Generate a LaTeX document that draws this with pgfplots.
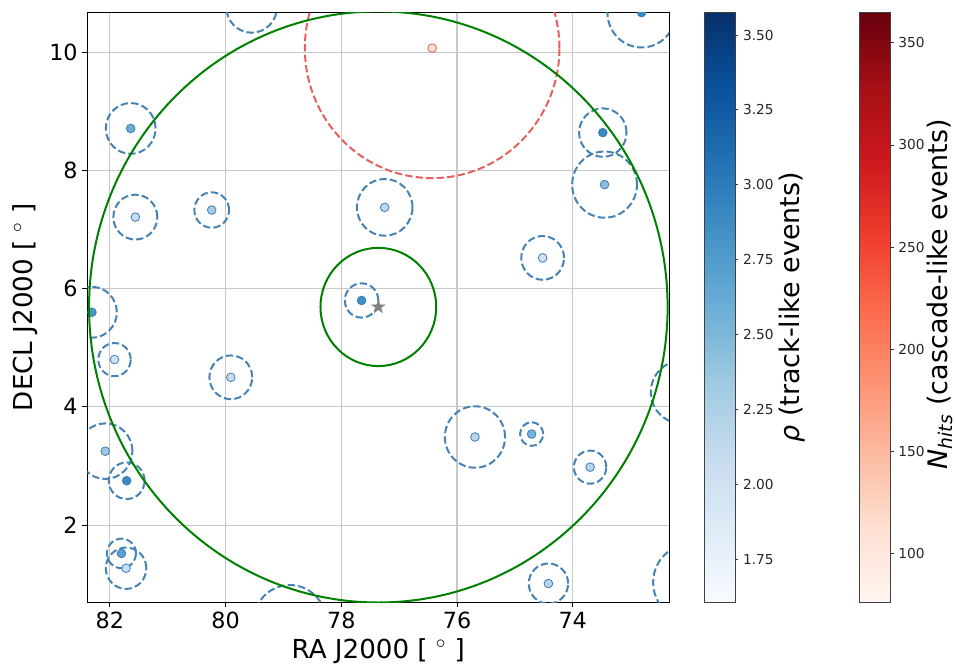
\documentclass[border=0pt]{standalone}
\usepackage{pgfplots}
\usepackage{pgfplotstable}
\pgfplotsset{compat=1.18}
\usepackage{fontspec}
\setmainfont{DejaVu Sans}
\usetikzlibrary{plotmarks}
\pgfkeys{/pgf/number format/assume math mode=true}
\definecolor{cblue}{RGB}{70,130,180}
\definecolor{cedge}{RGB}{65,125,178}
\definecolor{cgreen}{RGB}{0,128,0}
\definecolor{cred}{RGB}{232,95,95}
\definecolor{credge}{RGB}{232,95,95}
\definecolor{cpale}{RGB}{253,225,215}
\definecolor{cgrid}{RGB}{200,200,200}
\definecolor{cstar}{RGB}{128,128,128}
\pgfplotsset{
 colormap={Reds}{rgb255=(255,245,240) rgb255=(254,224,210) rgb255=(252,187,161) rgb255=(252,146,114) rgb255=(251,106,74) rgb255=(239,59,44) rgb255=(203,24,29) rgb255=(165,15,21) rgb255=(103,0,13)},
 colormap={Blues}{rgb255=(247,251,255) rgb255=(222,235,247) rgb255=(198,219,239) rgb255=(158,202,225) rgb255=(107,174,214) rgb255=(66,146,198) rgb255=(33,113,181) rgb255=(8,81,156) rgb255=(8,48,107)},
 skymap/.style={
   scale only axis, width=436.3pt, height=442.5pt,
   at={(65.5pt,47.8pt)}, anchor=south west,
   x dir=reverse,
   xmin=72.335, xmax=82.39, ymin=0.694, ymax=10.676,
   axis line style={line width=0.75pt},
   colormap name=Blues,
   point meta min=1.606, point meta max=3.576,
 },
}
% ellipse mark: x radius = mark size, y radius scaled by yunit/xunit
\pgfdeclareplotmark{ell}{%
  \pgfpathellipse{\pgfpointorigin}{\pgfqpoint{\pgfplotmarksize}{0pt}}{\pgfqpoint{0pt}{1.0217\pgfplotmarksize}}%
  \pgfusepathqstroke}
\pgfdeclareplotmark{fstar}{%
  \pgfpathmoveto{\pgfpointpolar{90}{\pgfplotmarksize}}%
  \pgfpathlineto{\pgfpointpolar{126}{0.382\pgfplotmarksize}}%
  \pgfpathlineto{\pgfpointpolar{162}{\pgfplotmarksize}}%
  \pgfpathlineto{\pgfpointpolar{198}{0.382\pgfplotmarksize}}%
  \pgfpathlineto{\pgfpointpolar{234}{\pgfplotmarksize}}%
  \pgfpathlineto{\pgfpointpolar{270}{0.382\pgfplotmarksize}}%
  \pgfpathlineto{\pgfpointpolar{306}{\pgfplotmarksize}}%
  \pgfpathlineto{\pgfpointpolar{342}{0.382\pgfplotmarksize}}%
  \pgfpathlineto{\pgfpointpolar{18}{\pgfplotmarksize}}%
  \pgfpathlineto{\pgfpointpolar{54}{0.382\pgfplotmarksize}}%
  \pgfpathclose
  \pgfusepathqfillstroke}

\pgfplotstableread{
ra dec rho r
72.81 10.67 2.90 0.59
81.64 8.71 2.60 0.43
81.56 7.21 2.10 0.38
80.24 7.33 2.30 0.30
82.31 5.60 2.80 0.43
77.25 7.375 2.15 0.48
77.65 5.80 2.85 0.29
73.48 8.64 2.90 0.41
73.45 7.76 2.45 0.56
74.52 6.52 2.00 0.37
81.92 4.80 2.00 0.28
79.91 4.50 2.10 0.37
82.08 3.25 2.35 0.47
81.71 2.75 2.90 0.31
81.80 1.52 2.70 0.25
81.72 1.27 2.05 0.35
75.69 3.49 2.20 0.52
74.71 3.54 2.55 0.20
73.70 2.98 2.20 0.28
74.42 1.01 2.20 0.34
79.55 10.77 2.50 0.44
78.89 0.355 2.50 0.63
72.12 4.25 2.50 0.53
71.96 1.03 2.50 0.65
}\tracks

\pgfplotstableread{
ra dec r m
77.36 5.69 1.0 2
77.36 5.69 5.0 2
}\roi

\pgfplotstableread{
ra dec r m
76.43 10.07 2.2 2
}\cascade

\begin{document}
\begin{tikzpicture}
% frame, grid, ticks, labels and the rho colorbar
\begin{axis}[
  skymap,
  xtick={74,76,78,80,82}, ytick={2,4,6,8,10},
  tick pos=left, tick align=outside,
  major tick length=3.75pt,
  tick style={black, line width=0.75pt},
  grid=major, grid style={cgrid, line width=0.8pt},
  ticklabel style={font=\fontsize{16.7}{18}\selectfont},
  xlabel={RA J2000 [ $^\circ$ ]}, ylabel={DECL J2000 [ $^\circ$ ]},
  label style={font=\fontsize{19.6}{22}\selectfont},
  xlabel style={at={(axis description cs:0.5,0)}, yshift=-37pt, anchor=center},
  ylabel style={at={(axis description cs:-0.107,0.5)}, anchor=center},
  colorbar,
  colorbar/width=23.1pt,
  colorbar style={
    at={(parent axis.north east)}, anchor=north west, xshift=17.75pt,
    ytick={1.75,2.00,2.25,2.50,2.75,3.00,3.25,3.50},
    yticklabel style={font=\fontsize{10.3}{12}\selectfont, color=black!85,
      /pgf/number format/.cd, fixed, fixed zerofill, precision=2, assume math mode=true},
    ytick pos=right, yticklabel pos=right,
    tick align=outside, major tick length=2.6pt,
    tick style={line width=0.6pt, black!80},
    axis line style={line width=0.6pt, black!75},
    ylabel={\textit{ρ} (track-like events)},
    ylabel style={font=\fontsize{20.2}{22}\selectfont, at={(axis description cs:2.87,0.5)}, anchor=center},
  },
]
\addplot[draw=none] coordinates {(77,5)};
\end{axis}
% data, clipped to the axis box
\begin{scope}
\clip (65.5pt,47.8pt) rectangle (501.8pt,490.3pt);
\begin{axis}[
  skymap,
  clip=false,
  xtick=\empty, ytick=\empty,
  axis on top,
]
% dashed error circles of track-like events
\addplot[scatter, only marks, mark=ell, line width=1.5pt,
  point meta=explicit,
  scatter/use mapped color={draw=cblue, fill=none},
  mark options={dash pattern=on 5.5pt off 2.4pt, fill=none},
  visualization depends on={43.39*\thisrow{r} \as \rr},
  scatter/@pre marker code/.append style={/tikz/mark size=\rr pt}]
  table[x=ra, y=dec, meta=rho] {\tracks};
% track-like events
\addplot[scatter, only marks, mark=*, mark size=3.25pt, line width=0.6pt,
  point meta=explicit,
  scatter/use mapped color={draw=cedge, fill=mapped color},
  mark options={solid}]
  table[x=ra, y=dec, meta=rho] {\tracks};
% cascade error circle
\addplot[scatter, only marks, mark=ell, line width=1.5pt,
  point meta=explicit,
  scatter/use mapped color={draw=cred, fill=none},
  mark options={dash pattern=on 5.5pt off 2.4pt, fill=none},
  visualization depends on={43.39*\thisrow{r} \as \rr},
  scatter/@pre marker code/.append style={/tikz/mark size=\rr pt}]
  table[x=ra, y=dec, meta=m] {\cascade};
% cascade event
\addplot[only marks, mark=*, mark size=3.25pt, line width=0.6pt,
  draw=credge, fill=cpale, mark options={solid}]
  table[x=ra, y=dec] {\cascade};
% regions of interest
\addplot[scatter, only marks, mark=ell, line width=1.5pt,
  point meta=explicit,
  scatter/use mapped color={draw=cgreen, fill=none},
  mark options={solid, fill=none},
  visualization depends on={43.39*\thisrow{r} \as \rr},
  scatter/@pre marker code/.append style={/tikz/mark size=\rr pt}]
  table[x=ra, y=dec, meta=m] {\roi};
% source position
\addplot[only marks, mark=fstar, mark size=5.3pt, line width=0.3pt,
  draw=cstar, fill=cstar, mark options={solid}]
  coordinates {(77.36,5.69)};
\end{axis}
\end{scope}
% N_hits colorbar
\begin{axis}[
  scale only axis, width=436.3pt, height=442.5pt,
  at={(65.5pt,47.8pt)}, anchor=south west,
  hide axis,
  xmin=0, xmax=1, ymin=0, ymax=1,
  colormap name=Reds,
  point meta min=76.3, point meta max=364.9,
  colorbar,
  colorbar/width=23.1pt,
  colorbar style={
    at={(parent axis.north east)}, anchor=north west, xshift=134.25pt,
    ytick={100,150,200,250,300,350},
    yticklabel style={font=\fontsize{10.3}{12}\selectfont, color=black!85,
      /pgf/number format/.cd, fixed, assume math mode=true},
    ytick pos=right, yticklabel pos=right,
    tick align=outside, major tick length=2.6pt,
    tick style={line width=0.6pt, black!80},
    axis line style={line width=0.6pt, black!75},
    ylabel={\textit{N}\textsubscript{\textit{hits}} (cascade-like events)},
    ylabel style={font=\fontsize{20.2}{22}\selectfont, at={(axis description cs:2.60,0.522)}, anchor=center},
  },
]
\addplot[draw=none] coordinates {(0,0) (1,1)};
\end{axis}
\pgfresetboundingbox
\useasboundingbox (0,0) rectangle (717pt,499.5pt);
\end{tikzpicture}
\end{document}
